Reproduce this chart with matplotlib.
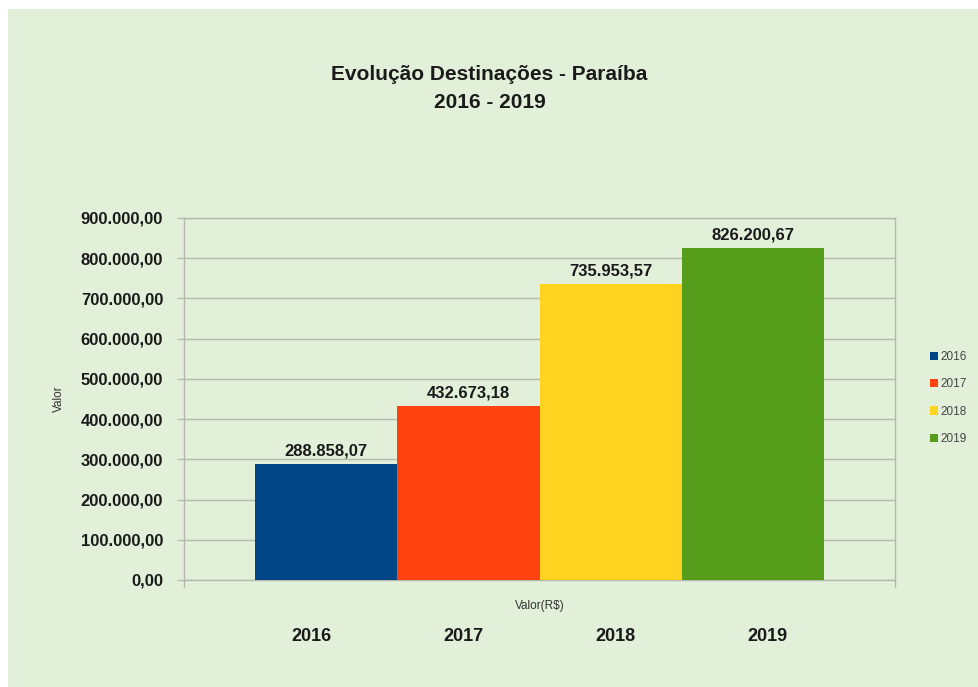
import matplotlib.pyplot as plt
from matplotlib.ticker import FuncFormatter
from matplotlib.patches import Rectangle

years = ["2016", "2017", "2018", "2019"]
values = [288858.07, 432673.18, 735953.57, 826200.67]
colors = ["#004586", "#ff420e", "#ffd320", "#579d1c"]
y_ticks = [0, 100000, 200000, 300000, 400000, 500000, 600000, 700000, 800000, 900000]

bg = "#e2efd9"
grid_color = "#b4b8b0"
plt.rcParams["font.family"] = ["Liberation Sans", "DejaVu Sans"]


def br_format(v, pos=None):
    # 1234567.8 -> 1.234.567,80
    s = f"{v:,.2f}"
    return s.replace(",", "X").replace(".", ",").replace("X", ".")


fig = plt.figure(figsize=(9.79, 6.87), dpi=100)
fig.patch.set_facecolor("white")
fig.patches.append(Rectangle((8 / 979, 0), 1, 1 - 9 / 687, transform=fig.transFigure,
                             facecolor=bg, edgecolor="none", zorder=-1))

ax = fig.add_axes([184 / 979, 1 - 580 / 687, 711 / 979, 362 / 687])
ax.set_facecolor(bg)

width = 0.2
centers = [-0.3, -0.1, 0.1, 0.3]
bars = []
for c, v, col, yr in zip(centers, values, colors, years):
    b = ax.bar(c, v, width=width, color=col, label=yr, zorder=3)
    bars.append(b)
    ax.text(c, v + 14000, br_format(v), ha="center", va="bottom",
            fontsize=12, fontweight="bold", color="#1a1a1a", zorder=4)
    # year labels under the chart sit a bit more spread out than the bars
    ax.text(c * 1.07, -0.155, yr, transform=ax.get_xaxis_transform(),
            ha="center", va="center", fontsize=13, fontweight="bold", color="#1a1a1a")

ax.set_xlim(-0.5, 0.5)
ax.set_ylim(0, 900000)
ax.set_yticks(y_ticks)
ax.yaxis.set_major_formatter(FuncFormatter(br_format))
ax.set_xticks([-0.5, 0.5])
ax.set_xticklabels(["", ""])
ax.tick_params(axis="both", direction="out", length=5, color=grid_color, width=1)
ax.tick_params(axis="y", pad=10)
for lbl in ax.get_yticklabels():
    lbl.set_fontsize(12)
    lbl.set_fontweight("bold")
    lbl.set_color("#1a1a1a")

ax.grid(True, axis="y", color=grid_color, linewidth=1, zorder=0)
for s in ax.spines.values():
    s.set_color(grid_color)
    s.set_linewidth(1)

ax.set_ylabel("Valor", fontsize=8.5, color="#333333")
ax.yaxis.set_label_coords(-0.168, 0.5)
ax.set_xlabel("Valor(R$)", fontsize=8.5, color="#333333")
ax.xaxis.set_label_coords(0.5, -0.055)

fig.text(0.5, 1 - 75 / 687, "Evolução Destinações - Paraíba", ha="center", va="center",
         fontsize=15, fontweight="bold", color="#1a1a1a")
fig.text(0.5, 1 - 102 / 687, "2016 - 2019", ha="center", va="center",
         fontsize=15, fontweight="bold", color="#1a1a1a")

handles = [b[0] for b in bars]
leg = fig.legend(handles, years, loc="center left", bbox_to_anchor=(924 / 979, 1 - 398 / 687),
                 frameon=False, fontsize=8.5, handlelength=0.7, handleheight=0.7,
                 handletextpad=0.2, labelspacing=1.3, borderpad=0)
for t in leg.get_texts():
    t.set_color("#444444")

fig.savefig("out.png", dpi=100, facecolor=fig.get_facecolor())
